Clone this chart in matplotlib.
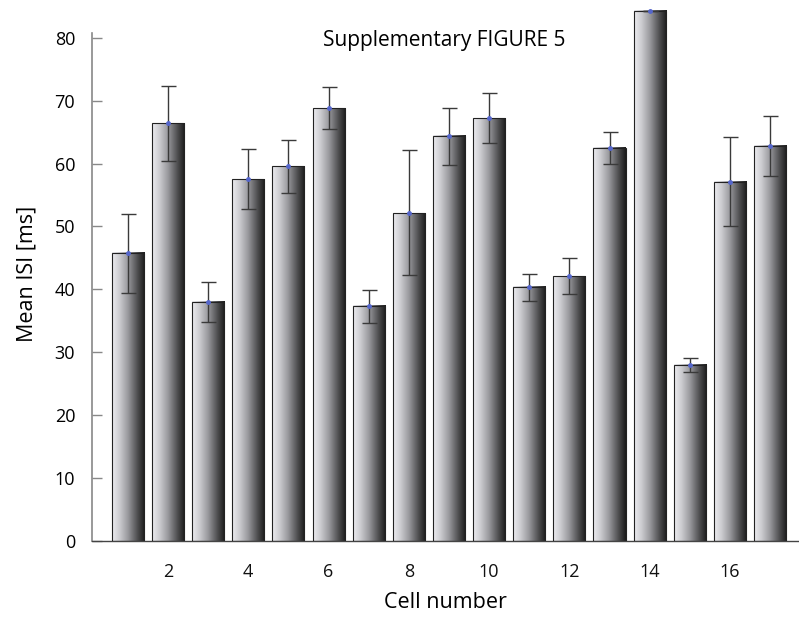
import matplotlib.pyplot as plt
from matplotlib.colors import LinearSegmentedColormap
import numpy as np

cells = list(range(1, 18))
mean_isi = [45.8, 66.4, 38.0, 57.5, 59.6, 68.8, 37.4, 52.1, 64.4, 67.2, 40.4, 42.1, 62.5, 84.3, 28.0, 57.1, 62.8]
err_low = [39.4, 60.4, 34.8, 52.8, 55.3, 65.5, 34.7, 42.3, 59.8, 63.3, 38.2, 39.3, 59.9, 84.3, 26.9, 50.1, 58.0]
err_high = [52.0, 72.3, 41.2, 62.3, 63.8, 72.2, 39.9, 62.2, 68.8, 71.2, 42.4, 45.0, 65.0, 84.3, 29.1, 64.2, 67.6]
xticks = [2, 4, 6, 8, 10, 12, 14, 16]
yticks = [0, 10, 20, 30, 40, 50, 60, 70, 80]

plt.rcParams['font.family'] = ['Open Sans', 'DejaVu Sans']

fig = plt.figure(figsize=(7.99, 6.30), dpi=100)
ax = fig.add_axes([0.115, 0.1413, 0.885, 0.8487])

grad = LinearSegmentedColormap.from_list('bar', ['#ececf0', '#c8c8cc', '#96969a', '#555557', '#1c1c1c'])
g = np.linspace(0, 1, 64).reshape(1, -1)

bars = ax.bar(cells, mean_isi, width=0.8, color='none', edgecolor='#222222', linewidth=0.8, zorder=3)
for b in bars:
    x0, w, h = b.get_x(), b.get_width(), b.get_height()
    ax.imshow(g, cmap=grad, aspect='auto', extent=(x0, x0 + w, 0, h), zorder=2, interpolation='bicubic')

lo = np.array(mean_isi) - np.array(err_low)
hi = np.array(err_high) - np.array(mean_isi)
ax.errorbar(cells, mean_isi, yerr=[lo, hi], fmt='none', ecolor='#3a3a3a', elinewidth=1.0,
            capsize=5.4, capthick=1.0, zorder=4)
ax.plot(cells, mean_isi, 'o', color='#5566cc', markersize=2.5, zorder=5)

ax.set_xlim(0.103, 17.72)
ax.set_ylim(0, 85)
ax.set_xticks(xticks)
ax.set_yticks(yticks)
ax.tick_params(axis='x', length=0, pad=16, labelsize=13, colors='#111111')
ax.tick_params(axis='y', direction='in', length=7, width=1, color='#888888', pad=12, labelsize=13)

for s in ['top', 'right']:
    ax.spines[s].set_visible(False)
ax.spines['left'].set_color('#888888')
ax.spines['left'].set_linewidth(1.2)
ax.spines['left'].set_bounds(0, 80.8)
ax.spines['bottom'].set_color('#444444')
ax.spines['bottom'].set_linewidth(1.0)

ax.set_xlabel('Cell number', fontsize=15.5, labelpad=8)
ax.set_ylabel('Mean ISI [ms]', fontsize=15.5, labelpad=12)
ax.text(8.87, 79.6, 'Supplementary FIGURE 5', fontsize=15, ha='center', va='center')

fig.savefig('out.png', dpi=100)
